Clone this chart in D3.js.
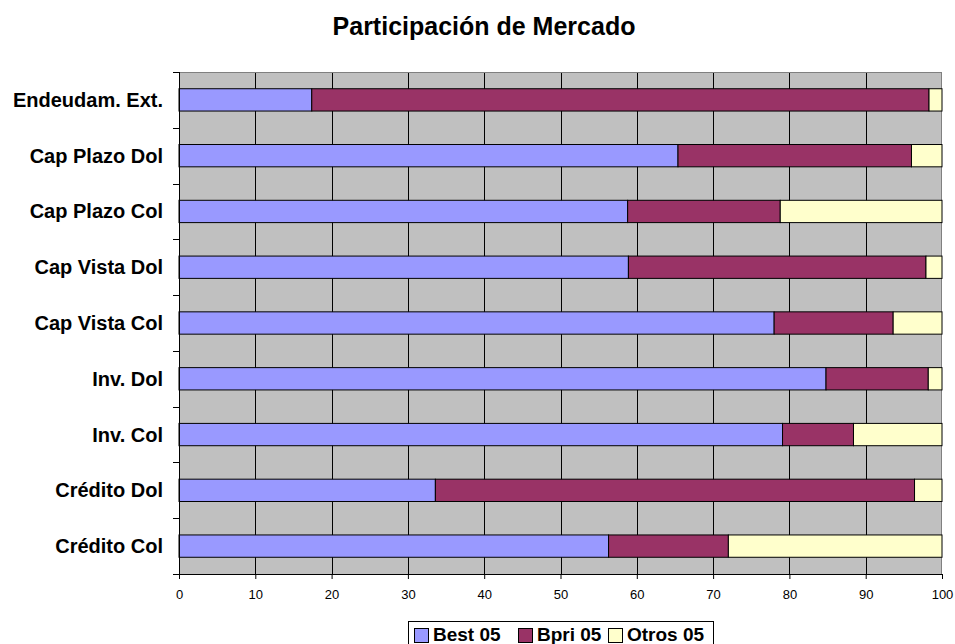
<!DOCTYPE html>
<html>
<head>
<meta charset="utf-8">
<script src="https://cdn.jsdelivr.net/npm/d3@7"></script>
<style>
  body { margin: 0; background: #fff; }
  text { font-family: Arial, "Liberation Sans", sans-serif; }
</style>
</head>
<body>
<svg id="chart" width="955" height="644"></svg>
<script>
var categories = ["Endeudam. Ext.", "Cap Plazo Dol", "Cap Plazo Col", "Cap Vista Dol",
    "Cap Vista Col", "Inv. Dol", "Inv. Col", "Crédito Dol", "Crédito Col"];
var series_names = ["Best 05", "Bpri 05", "Otros 05"];
var best_05 = [17.4, 65.4, 58.8, 58.9, 78.0, 84.8, 79.1, 33.6, 56.3];
var bpri_05 = [80.9, 30.6, 20.0, 39.0, 15.6, 13.4, 9.3, 62.8, 15.7];
var otros_05 = [1.7, 4.0, 21.2, 2.1, 6.4, 1.8, 11.6, 3.6, 28.0];
var x_ticks = [0, 10, 20, 30, 40, 50, 60, 70, 80, 90, 100];
var colors = ["#9999FF", "#993366", "#FFFFCC"];

var svg = d3.select("#chart");
var margin = {left: 179, right: 13, top: 72, bottom: 70};
var width = 955 - margin.left - margin.right;
var height = 644 - margin.top - margin.bottom;

var rows = categories.map(function(c, i) {
    return {cat: c, "Best 05": best_05[i], "Bpri 05": bpri_05[i], "Otros 05": otros_05[i]};
});
var stacked = d3.stack().keys(series_names)(rows);

var x = d3.scaleLinear().domain([0, 100]).range([0, width]);
var y = d3.scaleBand().domain(categories).range([0, height]).paddingInner(0.6).paddingOuter(0.3);
var yb = d3.scaleBand().domain(categories).range([0, height]);

svg.append("text")
    .attr("x", 484).attr("y", 35)
    .attr("text-anchor", "middle")
    .style("font-size", "25px").style("font-weight", "bold")
    .text("Participación de Mercado");

var g = svg.append("g").attr("transform", "translate(" + margin.left + "," + margin.top + ")");

g.append("rect")
    .attr("width", width).attr("height", height)
    .attr("fill", "#C0C0C0");

// vertical gridlines
g.selectAll(".grid")
    .data(x_ticks.slice(1, -1))
    .enter().append("line")
    .attr("class", "grid")
    .attr("x1", function(d) { return Math.round(x(d)) + 0.5; })
    .attr("x2", function(d) { return Math.round(x(d)) + 0.5; })
    .attr("y1", 0).attr("y2", height)
    .attr("stroke", "#000").attr("stroke-width", 1);

g.append("rect")
    .attr("x", 0.5).attr("y", 0.5)
    .attr("width", width - 1).attr("height", height)
    .attr("fill", "none").attr("stroke", "#808080");

var layer = g.selectAll(".layer")
    .data(stacked)
    .enter().append("g")
    .attr("class", "layer")
    .attr("fill", function(d, i) { return colors[i]; });

layer.selectAll("rect")
    .data(function(d) { return d; })
    .enter().append("rect")
    .attr("x", function(d) { return x(d[0]); })
    .attr("width", function(d) { return x(d[1]) - x(d[0]); })
    .attr("y", function(d) { return y(d.data.cat); })
    .attr("height", y.bandwidth())
    .attr("stroke", "#000").attr("stroke-width", 1);

// x axis
var xAxis = g.append("g")
    .attr("transform", "translate(0," + height + ")")
    .call(d3.axisBottom(x).tickValues(x_ticks).tickSize(5).tickPadding(11).tickFormat(d3.format("d")));
xAxis.select(".domain").attr("stroke", "#000");
xAxis.selectAll("text").style("font-size", "13px").attr("fill", "#000");

// y axis with ticks at category boundaries
var yAxis = g.append("g");
yAxis.append("line")
    .attr("x1", 0.5).attr("x2", 0.5).attr("y1", 0).attr("y2", height)
    .attr("stroke", "#000");
yAxis.selectAll(".ytick")
    .data(categories.concat(["_end"]))
    .enter().append("line")
    .attr("class", "ytick")
    .attr("x1", -6).attr("x2", 0)
    .attr("y1", function(d, i) { return Math.round(i * yb.step()) + 0.5; })
    .attr("y2", function(d, i) { return Math.round(i * yb.step()) + 0.5; })
    .attr("stroke", "#000");
yAxis.selectAll(".ylabel")
    .data(categories)
    .enter().append("text")
    .attr("x", -16)
    .attr("y", function(d) { return y(d) + y.bandwidth() / 2; })
    .attr("dy", "0.35em")
    .attr("text-anchor", "end")
    .style("font-size", "20px").style("font-weight", "bold")
    .text(function(d) { return d; });

// legend
var legend = svg.append("g").attr("transform", "translate(408,621)");
legend.append("rect")
    .attr("x", 0.5).attr("y", 0.5).attr("width", 305).attr("height", 26)
    .attr("fill", "#fff").attr("stroke", "#000");
var offsets = [6, 110, 200];
var item = legend.selectAll(".item")
    .data(series_names)
    .enter().append("g")
    .attr("class", "item")
    .attr("transform", function(d, i) { return "translate(" + offsets[i] + ",0)"; });
item.append("rect")
    .attr("x", 0.5).attr("y", 7.5).attr("width", 14).attr("height", 14)
    .attr("fill", function(d, i) { return colors[i]; })
    .attr("stroke", "#000");
item.append("text")
    .attr("x", 19).attr("y", 20)
    .style("font-size", "19px").style("font-weight", "bold")
    .text(function(d) { return d; });
</script>
</body>
</html>
